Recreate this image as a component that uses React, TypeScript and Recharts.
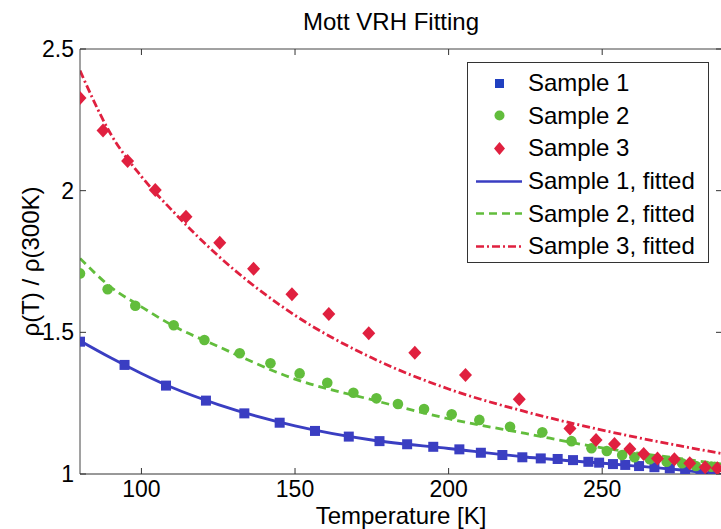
import React from 'react';
import {
  ComposedChart,
  Scatter,
  Line,
  XAxis,
  YAxis,
  Legend,
} from 'recharts';

// measured points
const s1T = [80, 94.5, 108, 121, 133.5, 145, 156.5, 167.5, 177.5, 186.5, 195, 203.5, 210.5, 217.5, 224, 230, 235.5, 240.5, 245.5, 249, 253.5, 257.5, 262, 267, 272, 277, 282, 286];
const s1V = [1.467, 1.385, 1.312, 1.259, 1.214, 1.181, 1.152, 1.132, 1.116, 1.105, 1.096, 1.087, 1.075, 1.067, 1.059, 1.055, 1.053, 1.049, 1.043, 1.04, 1.035, 1.032, 1.028, 1.024, 1.02, 1.014, 1.008, 1.004];

const s2T = [80, 89, 98, 110.5, 120.5, 132, 142, 151.5, 160.5, 169, 176.5, 183.5, 192, 201, 210, 220, 230.5, 240, 246.5, 251.5, 256.5, 260.5, 265.5, 271, 276, 280.5, 285.5];
const s2V = [1.708, 1.652, 1.594, 1.525, 1.473, 1.426, 1.391, 1.355, 1.322, 1.287, 1.267, 1.247, 1.229, 1.211, 1.191, 1.167, 1.147, 1.116, 1.091, 1.081, 1.067, 1.059, 1.052, 1.043, 1.038, 1.028, 1.026];

const s3T = [80, 87.5, 95.5, 104.5, 114.5, 125.5, 136.5, 149, 161, 174, 189, 205.5, 223, 239.5, 248, 254, 259, 263.5, 268, 273.5, 278.5, 283.5, 287.5];
const s3V = [2.327, 2.212, 2.105, 2.002, 1.908, 1.816, 1.724, 1.634, 1.565, 1.497, 1.428, 1.349, 1.264, 1.161, 1.12, 1.106, 1.088, 1.071, 1.055, 1.052, 1.038, 1.024, 1.02];

// fitted curves
const fitT = [80, 90, 100, 110, 125, 150, 175, 200, 225, 250, 275, 289];
const fit1V = [1.47, 1.41, 1.355, 1.305, 1.245, 1.17, 1.12, 1.09, 1.06, 1.038, 1.015, 0.998];
const fit2V = [1.761, 1.66, 1.59, 1.525, 1.45, 1.335, 1.262, 1.195, 1.143, 1.092, 1.055, 1.035];
const fit3V = [2.424, 2.2, 2.05, 1.93, 1.77, 1.56, 1.41, 1.3, 1.22, 1.155, 1.1, 1.072];

const xTicks = [100, 150, 200, 250];
const yTicks = [1, 1.5, 2, 2.5];
const legendLabels = ['Sample 1', 'Sample 2', 'Sample 3', 'Sample 1, fitted', 'Sample 2, fitted', 'Sample 3, fitted'];

const BLUE = '#3a3ec2';
const GREEN = '#62bd3c';
const RED = '#e0203f';
const FONT = '"Liberation Sans", Arial, sans-serif';

const zip = (t: number[], v: number[]) => t.map((x, i) => ({ t: x, v: v[i] }));

const s1 = zip(s1T, s1V);
const s2 = zip(s2T, s2V);
const s3 = zip(s3T, s3V);
const fit1 = zip(fitT, fit1V);
const fit2 = zip(fitT, fit2V);
const fit3 = zip(fitT, fit3V);

const Square = (p: any) => <rect x={p.cx - 5} y={p.cy - 5} width={10} height={10} fill={BLUE} />;
const Dot = (p: any) => <circle cx={p.cx} cy={p.cy} r={5.3} fill={GREEN} />;
const Diamond = (p: any) => (
  <path d={`M${p.cx},${p.cy - 7}L${p.cx + 6.5},${p.cy}L${p.cx},${p.cy + 7}L${p.cx - 6.5},${p.cy}Z`} fill={RED} />
);

// inward tick marks only, no text
const NoLabel = () => <g />;

const legendSymbols = [
  <rect x={19} y={6} width={9} height={9} fill="#2040c0" />,
  <circle cx={23.5} cy={10.5} r={5} fill={GREEN} />,
  <path d="M23.5,4L29,10.5L23.5,17L18,10.5Z" fill={RED} />,
  <line x1={0} y1={10.5} x2={46} y2={10.5} stroke={BLUE} strokeWidth={2.5} />,
  <line x1={0} y1={10.5} x2={46} y2={10.5} stroke={GREEN} strokeWidth={2.5} strokeDasharray="8 5" />,
  <line x1={0} y1={10.5} x2={46} y2={10.5} stroke={RED} strokeWidth={2.5} strokeDasharray="8 3 2 3" />,
];

const renderLegend = () => (
  <div
    style={{
      width: 242,
      height: 201,
      border: '1px solid #333',
      background: '#fff',
      boxSizing: 'border-box',
      paddingTop: 4,
      fontFamily: FONT,
      fontSize: 24,
    }}
  >
    {legendLabels.map((label, i) => (
      <div key={label} style={{ display: 'flex', alignItems: 'center', height: 32.6 }}>
        <svg width={46} height={21} style={{ marginLeft: 8, marginRight: 6 }}>
          {legendSymbols[i]}
        </svg>
        <span style={{ color: '#000', whiteSpace: 'nowrap' }}>{label}</span>
      </div>
    ))}
  </div>
);

const tickStyle = { fill: '#000', fontSize: 23, fontFamily: FONT };

export default function App() {
  return (
    <div style={{ position: 'absolute', left: 0, top: 0, width: 721, height: 529, overflow: 'hidden', background: '#fff' }}>
      <div
        style={{
          position: 'absolute',
          left: 291,
          width: 200,
          top: 8,
          textAlign: 'center',
          fontFamily: FONT,
          fontSize: 24,
          color: '#000',
          whiteSpace: 'nowrap',
        }}
      >
        Mott VRH Fitting
      </div>
      <ComposedChart width={740} height={529} margin={{ top: 49, right: 18, bottom: 0, left: 20 }}>
        <XAxis
          xAxisId={0}
          dataKey="t"
          type="number"
          domain={[80, 289]}
          ticks={xTicks}
          allowDataOverflow
          height={55}
          tickLine={false}
          tickSize={0}
          tickMargin={7}
          tick={tickStyle}
          axisLine={{ stroke: '#333' }}
          label={{ value: 'Temperature [K]', position: 'insideBottom', offset: 5, fill: '#000', fontSize: 24, fontFamily: FONT }}
        />
        <XAxis xAxisId="bm" dataKey="t" type="number" domain={[80, 289]} ticks={xTicks} allowDataOverflow mirror tick={NoLabel} tickSize={6} axisLine={false} stroke="#333" />
        <XAxis xAxisId="top" orientation="top" dataKey="t" type="number" domain={[80, 289]} ticks={xTicks} allowDataOverflow mirror tick={NoLabel} tickSize={6} axisLine={{ stroke: '#444' }} stroke="#333" />
        <YAxis
          yAxisId={0}
          type="number"
          domain={[1, 2.5]}
          ticks={yTicks}
          allowDataOverflow
          width={60}
          tickLine={false}
          tickSize={0}
          tickMargin={6}
          tick={tickStyle}
          axisLine={{ stroke: '#444' }}
          label={{ value: 'ρ(T) / ρ(300K)', angle: -90, position: 'insideLeft', offset: 10, fill: '#000', fontSize: 24, fontFamily: FONT, style: { textAnchor: 'middle' } }}
        />
        <YAxis yAxisId="lm" type="number" domain={[1, 2.5]} ticks={yTicks} allowDataOverflow mirror tick={NoLabel} tickSize={6} axisLine={false} stroke="#333" />
        <YAxis yAxisId="rm" orientation="right" type="number" domain={[1, 2.5]} ticks={yTicks} allowDataOverflow mirror tick={NoLabel} tickSize={6} axisLine={{ stroke: '#444' }} stroke="#333" />
        <Legend
          content={renderLegend}
          layout="vertical"
          align="center"
          verticalAlign="middle"
          wrapperStyle={{ position: 'absolute', left: 467, top: 62, width: 242, height: 201 }}
        />
        <Scatter name="Sample 1" data={s1} dataKey="v" shape={Square} isAnimationActive={false} />
        <Scatter name="Sample 2" data={s2} dataKey="v" shape={Dot} isAnimationActive={false} />
        <Scatter name="Sample 3" data={s3} dataKey="v" shape={Diamond} isAnimationActive={false} />
        <Line name="Sample 1, fitted" data={fit1} dataKey="v" type="monotone" stroke={BLUE} strokeWidth={2.8} dot={false} isAnimationActive={false} />
        <Line name="Sample 2, fitted" data={fit2} dataKey="v" type="monotone" stroke={GREEN} strokeWidth={2.8} strokeDasharray="8 5" dot={false} isAnimationActive={false} />
        <Line name="Sample 3, fitted" data={fit3} dataKey="v" type="monotone" stroke={RED} strokeWidth={2.8} strokeDasharray="8 3 2 3" dot={false} isAnimationActive={false} />
      </ComposedChart>
    </div>
  );
}
